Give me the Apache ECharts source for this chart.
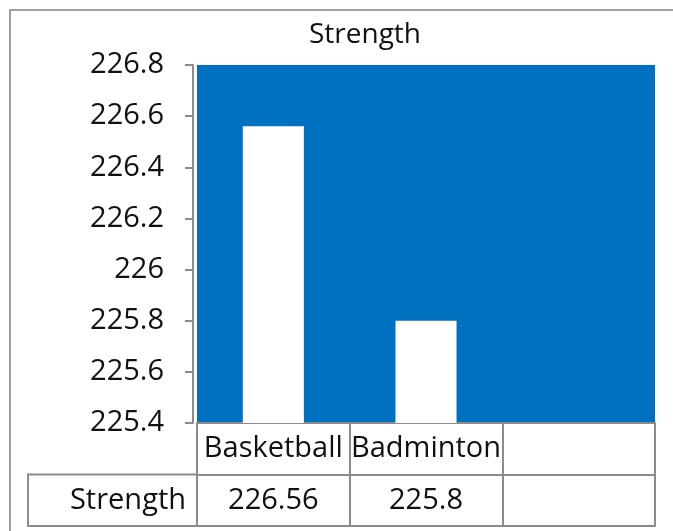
<!DOCTYPE html>
<html>
<head>
<meta charset="utf-8">
<script src="https://cdn.jsdelivr.net/npm/echarts@6/dist/echarts.min.js"></script>
<style>
  html, body { margin: 0; padding: 0; background: #fff; }
  #chart { width: 673px; height: 531px; }
</style>
</head>
<body>
<div id="chart"></div>
<script>
// Sports and their strength scores
const categories = ['Basketball', 'Badminton', ''];
const strengthValues = [226.56, 225.8, null];
const seriesName = 'Strength';
const yTickLabels = ['225.4', '225.6', '225.8', '226', '226.2', '226.4', '226.6', '226.8'];

// Layout constants
const FONT = 'Open Sans';
const TEXT = '#111111';
const LINE = '#8c8c8c';
const gridLeft = 197, gridRight = 18, gridTop = 65, gridBottom = 108;
const rowH = 51.5;
const keyCellLeft = 28;

const chartH = 531;
const axisY = chartH - gridBottom;

const yMin = Number(yTickLabels[0]);
const yMax = Number(yTickLabels[yTickLabels.length - 1]);
const yStep = Number((Number(yTickLabels[1]) - yMin).toFixed(6));

const tableValues = strengthValues.map(v => (v == null ? '' : String(v)));

const chart = echarts.init(document.getElementById('chart'), null, { renderer: 'canvas' });

const tableAxisBase = {
  type: 'category',
  position: 'bottom',
  gridIndex: 0,
  boundaryGap: true,
  axisLine: { show: true, lineStyle: { color: LINE, width: 2 } },
  axisTick: { show: true, interval: 0, lineStyle: { color: LINE, width: 2 } },
  axisLabel: {
    interval: 0,
    verticalAlign: 'middle',
    fontFamily: FONT,
    fontSize: 29,
    color: TEXT
  },
  splitLine: { show: false }
};

chart.setOption({
  animation: false,
  backgroundColor: '#ffffff',
  title: {
    text: seriesName,
    left: 360,
    top: 16,
    textAlign: 'center',
    textStyle: { fontFamily: FONT, fontSize: 28, fontWeight: 'normal', color: TEXT }
  },
  grid: {
    left: gridLeft,
    right: gridRight,
    top: gridTop,
    bottom: gridBottom,
    show: true,
    backgroundColor: '#0070C0',
    borderWidth: 0
  },
  xAxis: [
    Object.assign({}, tableAxisBase, {
      data: categories,
      offset: 0,
      axisTick: Object.assign({}, tableAxisBase.axisTick, { length: rowH }),
      axisLabel: Object.assign({}, tableAxisBase.axisLabel, { margin: rowH / 2 })
    }),
    Object.assign({}, tableAxisBase, {
      data: tableValues,
      offset: rowH,
      axisTick: Object.assign({}, tableAxisBase.axisTick, { length: rowH }),
      axisLabel: Object.assign({}, tableAxisBase.axisLabel, { margin: rowH / 2 })
    }),
    Object.assign({}, tableAxisBase, {
      data: categories,
      offset: rowH * 2,
      axisTick: { show: false },
      axisLabel: { show: false }
    })
  ],
  yAxis: {
    type: 'value',
    min: yMin,
    max: yMax,
    interval: yStep,
    offset: 4,
    axisLine: { show: true, lineStyle: { color: LINE, width: 2 } },
    axisTick: { show: true, length: 8, lineStyle: { color: LINE, width: 2 } },
    splitLine: { show: false },
    axisLabel: {
      margin: 29,
      fontFamily: FONT,
      fontSize: 29,
      color: TEXT,
      formatter: function (v) {
        const hit = yTickLabels.find(t => Math.abs(Number(t) - v) < 1e-6);
        return hit !== undefined ? hit : String(v);
      }
    }
  },
  series: [{
    name: seriesName,
    type: 'bar',
    xAxisIndex: 0,
    data: strengthValues,
    barWidth: '40%',
    itemStyle: { color: '#ffffff' }
  }],
  graphic: [
    {
      type: 'rect',
      silent: true,
      shape: { x: 10, y: 10, width: 900, height: 800 },
      style: { fill: 'none', stroke: '#808080', lineWidth: 1.5 },
      z: -1
    },
    {
      type: 'rect',
      silent: true,
      shape: { x: keyCellLeft, y: axisY + rowH, width: gridLeft - keyCellLeft, height: rowH },
      style: { fill: 'none', stroke: LINE, lineWidth: 2 }
    },
    {
      type: 'text',
      silent: true,
      x: gridLeft - 11,
      y: axisY + rowH * 1.5,
      style: {
        text: seriesName,
        align: 'right',
        verticalAlign: 'middle',
        fontFamily: FONT,
        fontSize: 29,
        fill: TEXT
      }
    }
  ]
});
</script>
</body>
</html>
